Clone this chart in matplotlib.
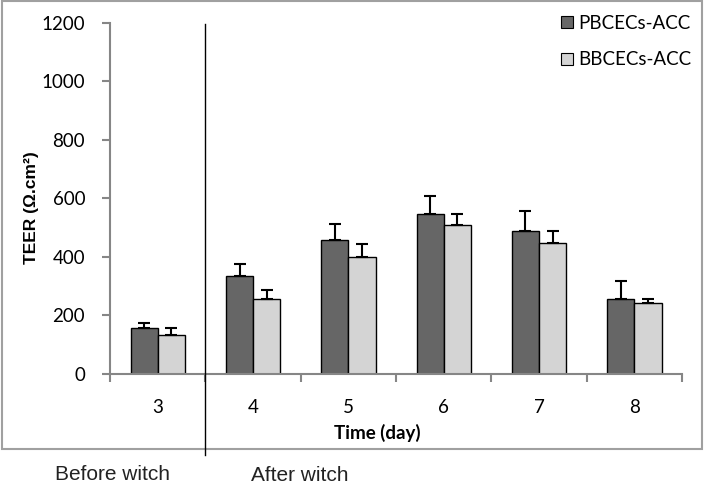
#!/usr/bin/env python3
"""
TEER of PBCECs-ACC vs BBCECs-ACC co-cultures over time (grouped bars).
"""

import matplotlib
matplotlib.use('Agg')  # Non-interactive backend
import matplotlib.pyplot as plt
import numpy as np
from matplotlib.patches import Rectangle
from matplotlib.lines import Line2D
from matplotlib.transforms import blended_transform_factory

# Data
days = ['3', '4', '5', '6', '7', '8']
pbcecs_mean = [156, 335, 458, 547, 488, 255]
pbcecs_err = [17, 41, 53, 60, 68, 64]
bbcecs_mean = [133, 255, 400, 508, 447, 244]
bbcecs_err = [23, 32, 43, 39, 41, 12]
series_names = ['PBCECs-ACC', 'BBCECs-ACC']
y_ticks = [0, 200, 400, 600, 800, 1000, 1200]

DARK = '#666666'
LIGHT = '#d4d4d4'
AXIS_GRAY = '#868686'
BODY_FONT = 'Lato'


def main():
    fig = plt.figure(figsize=(7.06, 4.86), dpi=100)
    ax = fig.add_axes([0.156, 0.2305, 0.81, 0.7225])

    x = np.arange(len(days))
    w = 0.285

    ax.bar(x - w / 2, pbcecs_mean, w, color=DARK, edgecolor='black',
           linewidth=1.0, label=series_names[0], zorder=2)
    ax.bar(x + w / 2, bbcecs_mean, w, color=LIGHT, edgecolor='black',
           linewidth=1.0, label=series_names[1], zorder=2)

    # Upper error bars only
    ax.errorbar(x - w / 2, pbcecs_mean, yerr=[np.zeros(len(days)), pbcecs_err],
                fmt='none', ecolor='black', elinewidth=1.5, capsize=4,
                capthick=1.5, zorder=3)
    ax.errorbar(x + w / 2, bbcecs_mean, yerr=[np.zeros(len(days)), bbcecs_err],
                fmt='none', ecolor='black', elinewidth=1.5, capsize=4,
                capthick=1.5, zorder=3)

    ax.set_xlim(-0.5, len(days) - 0.5)
    ax.set_ylim(0, 1200)
    ax.set_yticks(y_ticks)
    ax.set_xticks(x)
    ax.set_xticklabels(days, family=BODY_FONT, fontsize=13.5)
    ax.set_xticks(np.arange(len(days) + 1) - 0.5, minor=True)
    for lbl in ax.get_yticklabels():
        lbl.set_family(BODY_FONT)
        lbl.set_fontsize(13.5)

    ax.tick_params(axis='x', which='major', length=0, pad=18)
    ax.tick_params(axis='x', which='minor', length=6, width=1.5,
                   color=AXIS_GRAY)
    ax.tick_params(axis='y', length=6, width=1.5, color=AXIS_GRAY, pad=12)

    for side in ['top', 'right']:
        ax.spines[side].set_visible(False)
    for side in ['left', 'bottom']:
        ax.spines[side].set_color(AXIS_GRAY)
        ax.spines[side].set_linewidth(1.5)

    ax.set_xlabel('Time (day)', family=BODY_FONT, fontsize=13.5,
                  fontweight='bold', va='center')
    ax.xaxis.set_label_coords(0.468, -0.168)
    ax.set_ylabel('TEER (Ω.cm²)', family='Liberation Sans', fontsize=12.5,
                  fontweight='bold', va='center')
    ax.yaxis.set_label_coords(-0.138, 0.473)

    leg = ax.legend(loc='upper right', bbox_to_anchor=(0.998, 0.997),
                    bbox_transform=fig.transFigure, frameon=False,
                    prop={'family': BODY_FONT, 'size': 13.5},
                    handlelength=0.6, handleheight=0.6, handletextpad=0.3,
                    labelspacing=1.05, borderaxespad=0.3)
    for h in leg.legend_handles:
        h.set_linewidth(0.8)

    # Divider between "before" and "after" the switch
    trans = blended_transform_factory(ax.transData, fig.transFigure)
    fig.add_artist(Line2D([0.5, 0.5], [0.951, 0.064], transform=trans,
                          color='black', linewidth=1.0))

    # Outer chart frame
    fig.add_artist(Rectangle((0.003, 0.076), 0.991, 0.921,
                             transform=fig.transFigure, fill=False,
                             edgecolor='#a0a0a0', linewidth=1.5))

    fig.text(0.159, 0.024, 'Before witch', family='Liberation Sans',
             fontsize=15, ha='center', va='center', color='#222222')
    fig.text(0.425, 0.021, 'After witch', family='Liberation Sans',
             fontsize=15, ha='center', va='center', color='#222222')

    fig.savefig('out.png', dpi=100, facecolor='white')
    plt.close(fig)


if __name__ == "__main__":
    main()
